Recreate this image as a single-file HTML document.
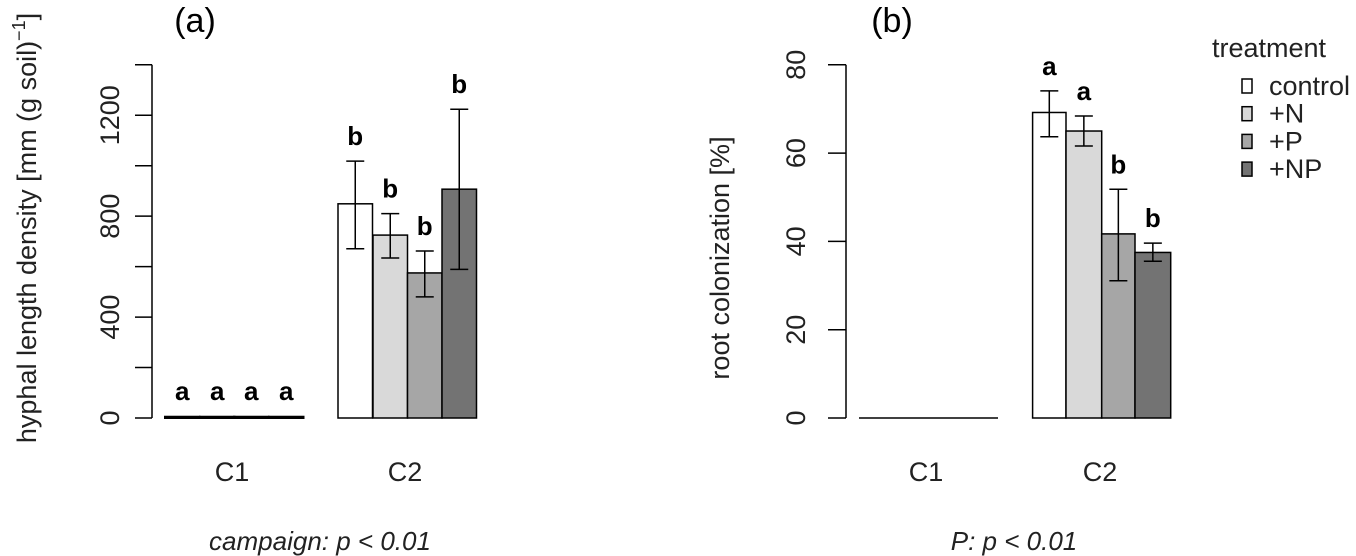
<!DOCTYPE html>
<html><head><meta charset="utf-8"><style>
html,body{margin:0;padding:0;background:#fff;}
svg{display:block;font-family:"Liberation Sans",Arial,sans-serif;}
</style></head><body>
<svg id="chart" width="1356" height="556" viewBox="0 0 1356 556" xmlns="http://www.w3.org/2000/svg"></svg>
<script>
const treatments = ["control","+N","+P","+NP"];
const colors = ["#ffffff","#d9d9d9","#a6a6a6","#737373"];
const campaigns = ["C1","C2"];
const hyphC1 = [5,5,5,5];
const hyphC2 = [849,725,575,907];
const hyphC2Lo = [671,634,480,589];
const hyphC2Hi = [1018,810,662,1224];
const hyphC1Letters = ["a","a","a","a"];
const hyphC2Letters = ["b","b","b","b"];
const hyphTicks = [0,200,400,600,800,1000,1200,1400];
const hyphTickLabels = ["0","","400","","800","","1200",""];
const rootC2 = [69.2,65,41.7,37.5];
const rootC2Lo = [63.7,61.6,31.1,35.5];
const rootC2Hi = [74.1,68.4,51.8,39.6];
const rootC2Letters = ["a","a","b","b"];
const rootTicks = [0,20,40,60,80];

const svg = document.getElementById('chart');
const NS = "http://www.w3.org/2000/svg";
function mk(tag, attrs, parent, text){
  const e = document.createElementNS(NS, tag);
  for (const k in attrs) e.setAttribute(k, attrs[k]);
  if (text !== undefined) e.textContent = text;
  (parent||svg).appendChild(e);
  return e;
}
const Y0 = 418, YTOP = 64.8;
function yA(v){ return Y0 - v/1400*(Y0-YTOP); }
function yB(v){ return Y0 - v/80*(Y0-YTOP); }

// ---------- Panel A ----------
const gA = mk('g',{});


let t = mk('text',{x:195,y:32,'font-size':34,'text-anchor':'middle'},gA,'(a)');
 
let ax = mk('line',{x1:152,x2:152,y1:yA(1400),y2:yA(0),stroke:'#000','stroke-width':1.5},gA);
 
hyphTicks.forEach((v,i)=>{
  const tk = mk('line',{x1:135,x2:152,y1:yA(v),y2:yA(v),stroke:'#000','stroke-width':1.5},gA);
   
  if (hyphTickLabels[i]) {
    const y = yA(v);
    const tl = mk('text',{x:0,y:0,'font-size':27,'text-anchor':'middle',fill:'#222',transform:`translate(119,${y}) rotate(-90)`},gA,hyphTickLabels[i]);
     
  }
});
t = mk('text',{x:0,y:0,'font-size':27,'text-anchor':'middle',fill:'#222',transform:'translate(36,228) rotate(-90)'},gA);
 
t.innerHTML = 'hyphal length density [mm (g soil)<tspan dy="-11" font-size="18">−1</tspan><tspan dy="11">]</tspan>';
const c1x = [165,200,234,269], bw=34.5;
hyphC1.forEach((v,i)=>{
  const r = mk('rect',{x:c1x[i],y:yA(v),width:bw,height:yA(0)-yA(v),fill:colors[i],stroke:'#000','stroke-width':2},gA);
   
  const l = mk('text',{x:c1x[i]+bw/2,y:400,'font-size':26,'font-weight':'bold','text-anchor':'middle'},gA,hyphC1Letters[i]);
   
});
const c2x = [338,373,407.5,442];
hyphC2.forEach((v,i)=>{
  const r = mk('rect',{x:c2x[i],y:yA(v),width:bw,height:yA(0)-yA(v),fill:colors[i],stroke:'#000','stroke-width':1.5},gA);
   
  const cx = c2x[i]+bw/2;
  const e = mk('path',{d:`M${cx},${yA(hyphC2Lo[i])}V${yA(hyphC2Hi[i])}M${cx-9},${yA(hyphC2Lo[i])}H${cx+9}M${cx-9},${yA(hyphC2Hi[i])}H${cx+9}`,stroke:'#000','stroke-width':1.5,fill:'none'},gA);
   
  const l = mk('text',{x:cx,y:yA(hyphC2Hi[i])-16,'font-size':26,'font-weight':'bold','text-anchor':'middle'},gA,hyphC2Letters[i]);
   
});
[[232,campaigns[0]],[405,campaigns[1]]].forEach(([x,s])=>{
  const l = mk('text',{x:x,y:481,'font-size':27,'text-anchor':'middle',fill:'#222'},gA,s);
   
});
t = mk('text',{x:320,y:550,'font-size':26,'font-style':'italic','text-anchor':'middle',fill:'#222'},gA,'campaign: p < 0.01');
 

// ---------- Panel B ----------
const gB = mk('g',{});


t = mk('text',{x:892,y:32,'font-size':34,'text-anchor':'middle'},gB,'(b)');
 
ax = mk('line',{x1:846,x2:846,y1:yB(80),y2:yB(0),stroke:'#000','stroke-width':1.5},gB);
 
rootTicks.forEach(v=>{
  const tk = mk('line',{x1:828,x2:846,y1:yB(v),y2:yB(v),stroke:'#000','stroke-width':1.5},gB);
   
  const tl = mk('text',{x:0,y:0,'font-size':27,'text-anchor':'middle',fill:'#222',transform:`translate(805,${yB(v)}) rotate(-90)`},gB,String(v));
   
});
t = mk('text',{x:0,y:0,'font-size':27,'text-anchor':'middle',fill:'#222',transform:'translate(729,258) rotate(-90)','xml:space':'preserve'},gB,'root colonization  [%]');
 
const c1b = mk('line',{x1:859,x2:998,y1:yB(0),y2:yB(0),stroke:'#000','stroke-width':1.5},gB);
 
const bx = [1032.6,1066,1101.7,1135], bwb=[33.4,35.7,33.3,35.7];
rootC2.forEach((v,i)=>{
  const r = mk('rect',{x:bx[i],y:yB(v),width:bwb[i],height:yB(0)-yB(v),fill:colors[i],stroke:'#000','stroke-width':1.5},gB);
   
  const cx = bx[i]+bwb[i]/2;
  const e = mk('path',{d:`M${cx},${yB(rootC2Lo[i])}V${yB(rootC2Hi[i])}M${cx-9},${yB(rootC2Lo[i])}H${cx+9}M${cx-9},${yB(rootC2Hi[i])}H${cx+9}`,stroke:'#000','stroke-width':1.5,fill:'none'},gB);
   
  const l = mk('text',{x:cx,y:yB(rootC2Hi[i])-16,'font-size':26,'font-weight':'bold','text-anchor':'middle'},gB,rootC2Letters[i]);
   
});
[[926,campaigns[0]],[1100,campaigns[1]]].forEach(([x,s])=>{
  const l = mk('text',{x:x,y:481,'font-size':27,'text-anchor':'middle',fill:'#222'},gB,s);
   
});
t = mk('text',{x:1014,y:550,'font-size':26,'font-style':'italic','text-anchor':'middle',fill:'#222'},gB,'P: p < 0.01');
 

// legend
const lg = mk('g',{});


t = mk('text',{x:1212,y:57,'font-size':27,fill:'#222'},lg,'treatment');
 
treatments.forEach((s,i)=>{
  const y = 86 + i*27.7;
  const b = mk('rect',{x:1242,y:y-7,width:10,height:14,fill:colors[i],stroke:'#000','stroke-width':1.5},lg);
   
  const l = mk('text',{x:1269,y:y+9,'font-size':27,fill:'#222'},lg,s);
   
});
</script>
</body></html>
